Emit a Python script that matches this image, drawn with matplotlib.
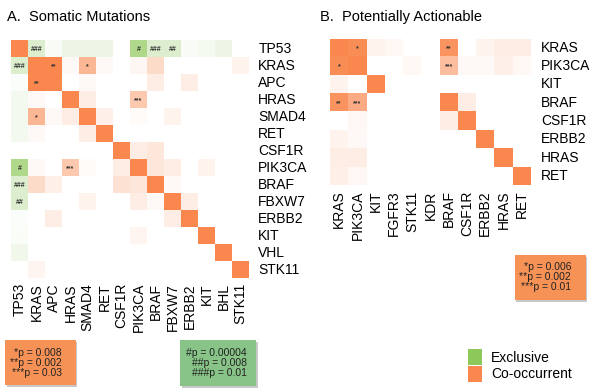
import numpy as np
import matplotlib
matplotlib.use("Agg")
import matplotlib.pyplot as plt
from matplotlib.patches import Rectangle

plt.rcParams['font.family'] = ['Liberation Sans', 'DejaVu Sans']

# ---------------- data ----------------
left_rows = ["TP53", "KRAS", "APC", "HRAS", "SMAD4", "RET", "CSF1R", "PIK3CA",
             "BRAF", "FBXW7", "ERBB2", "KIT", "VHL", "STK11"]
left_cols = ["TP53", "KRAS", "APC", "HRAS", "SMAD4", "RET", "CSF1R", "PIK3CA",
             "BRAF", "FBXW7", "ERBB2", "KIT", "BHL", "STK11"]
# positive = co-occurrence strength, negative = exclusivity strength
left_vals = [
    [1.0, -0.3, -0.05, -0.15, -0.15, -0.15, 0, -0.7, -0.3, -0.3, -0.05, -0.08, -0.15, 0],
    [-0.3, 1.0, 1.0, 0.05, 0.6, 0.05, 0, 0.07, 0.3, 0, 0, 0, 0, 0.1],
    [-0.03, 1.0, 1.0, 0, 0.05, 0, 0, 0, 0.15, 0, 0.15, 0, 0, 0],
    [-0.1, 0.05, 0, 1.0, 0.15, 0, 0, 0.45, 0, 0, 0, 0, 0, 0],
    [-0.1, 0.6, 0.05, 0.15, 1.0, 0.12, 0, 0.03, 0, 0.1, 0, 0, 0, 0],
    [-0.1, 0.05, 0, 0, 0.15, 1.0, 0, 0, 0, 0, 0, 0, 0, 0],
    [0, 0, 0, 0, 0, 0, 1.0, 0.15, 0.2, 0, 0, 0, 0, 0],
    [-0.7, 0.05, 0, 0.45, 0.03, 0, 0.15, 1.0, 0.2, 0.15, 0, 0.1, 0, 0],
    [-0.3, 0.3, 0.12, 0, 0, 0, 0.25, 0.2, 1.0, 0.05, 0, 0, 0, 0],
    [-0.3, 0, 0, 0, 0.1, 0, 0, 0.15, 0.05, 1.0, 0.15, 0, 0, 0],
    [-0.03, 0, 0.15, 0, 0, 0, 0, 0, 0, 0.15, 1.0, 0, 0, 0],
    [-0.04, 0, 0, 0, 0, 0, 0, 0.08, 0, 0, 0, 1.0, 0, 0],
    [-0.12, 0, 0, 0, 0, 0, 0, 0, 0, 0, 0, 0, 1.0, 0],
    [0, 0.08, 0, 0, 0, 0, 0, 0, 0, 0, 0, 0, 0, 1.0],
]
# (row, col, label)
left_marks = [(0, 1, "###"), (0, 7, "#"), (0, 8, "###"), (0, 9, "##"),
              (1, 0, "###"), (1, 2, "**"), (1, 4, "*"), (2, 1, "**"),
              (3, 7, "***"), (4, 1, "*"), (7, 0, "#"), (7, 3, "***"),
              (8, 0, "###"), (9, 0, "##")]

right_rows = ["KRAS", "PIK3CA", "KIT", "BRAF", "CSF1R", "ERBB2", "HRAS", "RET"]
right_cols = ["KRAS", "PIK3CA", "KIT", "FGFR3", "STK11", "KDR", "BRAF", "CSF1R",
              "ERBB2", "HRAS", "RET"]
right_vals = [
    [1.0, 0.95, 0.1, 0.06, 0, 0, 0.9, 0, 0.1, 0.15, 0.15],
    [0.95, 1.0, 0, 0, 0.06, 0, 0.55, 0.05, 0.05, 0.12, 0.06],
    [0.1, 0, 1.0, 0, 0, 0, 0, 0, 0, 0, 0],
    [0.9, 0.7, 0, 0, 0, 0, 1.0, 0.15, 0, 0, 0],
    [0, 0.06, 0, 0, 0, 0, 0.15, 1.0, 0, 0, 0],
    [0.1, 0.05, 0, 0, 0, 0, 0, 0, 1.0, 0, 0],
    [0.15, 0.15, 0, 0, 0, 0, 0, 0, 0, 1.0, 0],
    [0.12, 0.06, 0, 0, 0, 0, 0, 0, 0, 0, 1.0],
]
right_marks = [(0, 1, "*"), (1, 0, "*"), (0, 6, "**"), (1, 6, "***"),
               (3, 0, "**"), (3, 1, "***")]

co_p_left = ["*p = 0.008", "**p = 0.002", "***p = 0.03"]
ex_p_left = ["#p = 0.00004", "##p = 0.008", "###p = 0.01"]
co_p_right = ["*p = 0.006", "**p = 0.002", "***p = 0.01"]
legend_labels = ["Exclusive", "Co-occurrent"]

# ---------------- styling ----------------
ORANGE = np.array([0xF9, 0x87, 0x4E]) / 255.0
GREEN = np.array([0x8D, 0xC8, 0x5A]) / 255.0
W, H = 600, 391


def to_rgb(vals):
    v = np.array(vals, dtype=float)
    img = np.ones(v.shape + (3,))
    pos = np.clip(v, 0, 1)[..., None]
    neg = np.clip(-v, 0, 1)[..., None]
    img = img * (1 - pos) + ORANGE * pos
    img = img * (1 - neg) + GREEN * neg
    return img


def px_axes(fig, x0, y0, x1, y1):
    return fig.add_axes([x0 / W, 1 - y1 / H, (x1 - x0) / W, (y1 - y0) / H])


fig = plt.figure(figsize=(6.0, 3.91), dpi=100)


def draw_matrix(ax, vals, rows, cols, marks):
    n_r, n_c = len(rows), len(cols)
    ax.imshow(to_rgb(vals), aspect='auto', interpolation='nearest',
              extent=(-0.5, n_c - 0.5, n_r - 0.5, -0.5))
    ax.set_xlim(-0.5, n_c - 0.5)
    ax.set_ylim(n_r - 0.5, -0.5)
    ax.axis('off')
    for r, c, lab in marks:
        ax.text(c, r + 0.05, lab, ha='center', va='center', fontsize=5,
                color='#333333', fontweight='bold')
    for i, lab in enumerate(rows):
        ax.text(n_c - 0.5 + 0.55, i, lab, ha='left', va='center', fontsize=10,
                color='black')
    for j, lab in enumerate(cols):
        ax.text(j, n_r - 0.5 + 0.3, lab, ha='center', va='top', rotation=90,
                fontsize=10, color='black')


axL = px_axes(fig, 11, 40, 249, 278)
draw_matrix(axL, left_vals, left_rows, left_cols, left_marks)
axR = px_axes(fig, 330, 38.5, 531, 185)
draw_matrix(axR, right_vals, right_rows, right_cols, right_marks)

fig.text(7 / W, 1 - 17 / H, "A.  Somatic Mutations", fontsize=10.5, va='center', ha='left')
fig.text(320 / W, 1 - 17 / H, "B.  Potentially Actionable", fontsize=10.5, va='center', ha='left')


def pbox(x0, y0, x1, y1, color, lines, tx):
    shadow = Rectangle((x0 / W + 1.5 / W, 1 - y1 / H - 1.5 / H), (x1 - x0) / W, (y1 - y0) / H,
                       transform=fig.transFigure, facecolor='#c8c8c8', edgecolor='none', zorder=1)
    fig.patches.append(shadow)
    box = Rectangle((x0 / W, 1 - y1 / H), (x1 - x0) / W, (y1 - y0) / H,
                    transform=fig.transFigure, facecolor=color, edgecolor='none', zorder=2)
    fig.patches.append(box)
    n = len(lines)
    ymid = (y0 + y1) / 2
    for i, lab in enumerate(lines):
        yy = ymid + (i - (n - 1) / 2) * 10
        fig.text(tx / W, 1 - yy / H, lab, fontsize=7.5, ha='right', va='center',
                 color='#222222', zorder=3)


pbox(5, 340, 76, 385, '#F79257', co_p_left, 62)
pbox(180, 340, 256, 386, '#88C488', ex_p_left, 247)
pbox(515, 255, 586, 300, '#F79257', co_p_right, 571)

# legend
for k, (lab, col) in enumerate(zip(legend_labels, [GREEN, ORANGE])):
    y0 = 349 + k * 17
    fig.patches.append(Rectangle((468 / W, 1 - (y0 + 16) / H), 14 / W, 16 / H,
                                 transform=fig.transFigure, facecolor=col, edgecolor='none'))
    fig.text(491 / W, 1 - (y0 + 8.5) / H, lab, fontsize=10, ha='left', va='center')

fig.savefig("out.png", dpi=100)
